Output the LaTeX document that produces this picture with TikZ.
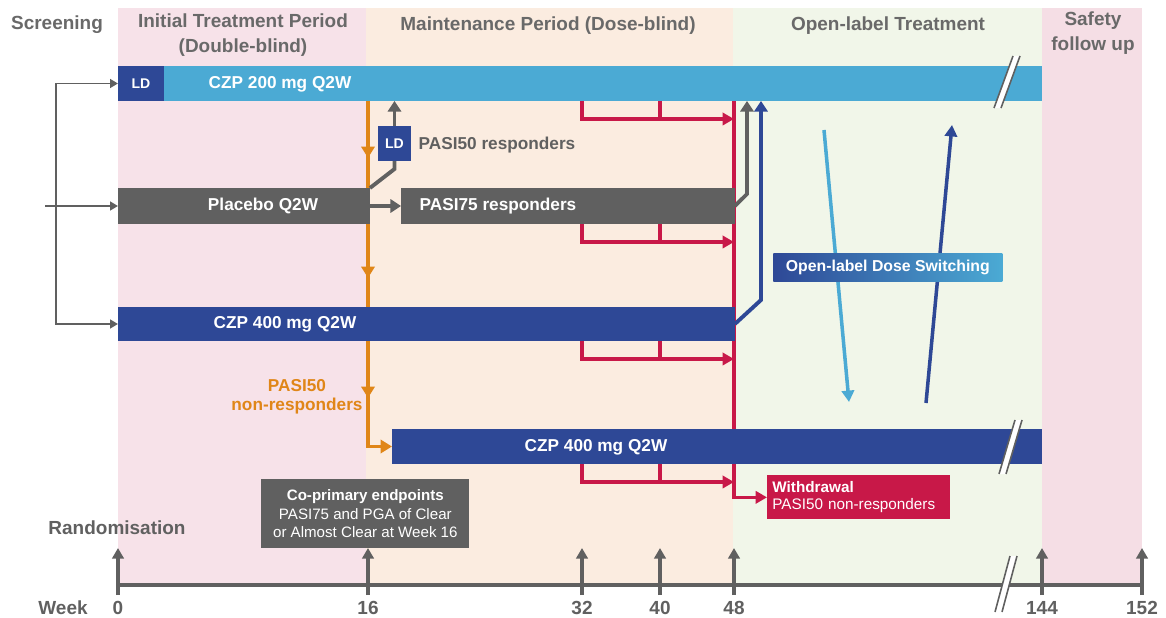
\documentclass[tikz,border=0pt]{standalone}
\usepackage{fontspec}
\setmainfont{Liberation Sans}
\usepackage{xcolor}
\usepackage{tikz}
\usetikzlibrary{arrows.meta}
\usetikzlibrary{calc}

\definecolor{bandpink}{RGB}{247,226,233}
\definecolor{bandpeach}{RGB}{251,236,224}
\definecolor{bandgreen}{RGB}{241,246,233}
\definecolor{bandsafe}{RGB}{245,222,229}
\definecolor{czplight}{RGB}{75,170,212}
\definecolor{czpdark}{RGB}{46,72,150}
\definecolor{pbogray}{RGB}{96,96,96}
\definecolor{hdgray}{RGB}{105,105,105}
\definecolor{nrorange}{RGB}{224,134,24}
\definecolor{wdred}{RGB}{200,24,72}

\pgfdeclarelayer{back}
\pgfdeclarelayer{mid}
\pgfsetlayers{back,mid,main}

\newcommand{\axbreak}[4]{%
  \fill[white] (#1,#2) -- (#3,#4) -- (#3+7,#4) -- (#1+7,#2) -- cycle;
  \draw[brkln] (#1,#2) -- (#3,#4);
  \draw[brkln] (#1+7,#2) -- (#3+7,#4);}

\tikzset{
  bar/.style={anchor=north west, inner sep=0pt, outer sep=0pt, minimum height=0.70cm},
  bartxt/.style={text=white, font=\fontsize{9.8}{12}\selectfont\bfseries},
  ldtxt/.style={text=white, font=\fontsize{8}{10}\selectfont\bfseries},
  hdtxt/.style={text=hdgray, font=\fontsize{10.8}{14.2}\selectfont\bfseries, align=center},
  wktxt/.style={text=pbogray, inner sep=1pt, font=\fontsize{10.8}{13}\selectfont\bfseries},
  grayln/.style={draw=pbogray, line width=2.2pt},
  grayarr/.style={grayln, -{Triangle[width=7.5pt,length=6pt]}},
  bluarr/.style={draw=czpdark, line width=2.2pt, -{Triangle[width=7.5pt,length=6pt]}},
  thinarr/.style={draw=pbogray, line width=1.1pt, -{Triangle[width=5pt,length=4.5pt]}},
  orgarr/.style={draw=nrorange, line width=2.2pt, -{Triangle[width=7.5pt,length=6.5pt]}},
  redln/.style={draw=wdred, line width=2pt},
  redarr/.style={redln, -{Triangle[width=7pt,length=6.5pt]}},
  lbarr/.style={draw=czplight, line width=2pt, -{Triangle[width=7pt,length=6.5pt]}},
  dbarr/.style={draw=czpdark, line width=2pt, -{Triangle[width=7pt,length=6.5pt]}},
  tickarr/.style={draw=pbogray, line width=1.8pt, -{Triangle[width=6.5pt,length=6pt]}},
  brkln/.style={draw=pbogray, line width=0.9pt},
}

\begin{document}
\begin{tikzpicture}[x=0.02cm, y=-0.02cm]
\useasboundingbox (0,0) rectangle (1166,618);

% periods
\begin{pgfonlayer}{back}
  \fill[bandpink] (118,8) rectangle (366,585);
  \fill[bandpeach] (366,8) rectangle (733,585);
  \fill[bandgreen] (733,8) rectangle (1042,585);
  \fill[bandsafe] (1042,8) rectangle (1142,585);
\end{pgfonlayer}

\node[hdtxt] (hscr) at (57,25) {Screening};
\node[hdtxt] (hini) at (243,35) {Initial Treatment Period\\(Double-blind)};
\node[hdtxt] (hmnt) at (548,26) {Maintenance Period (Dose-blind)};
\node[hdtxt] (hopn) at (888,26) {Open-label Treatment};
\node[hdtxt] (hsaf) at (1093,33) {Safety\\follow up};

% weeks
\foreach \w/\x in {0/118,16/368,32/582,40/660,48/734,144/1042,152/1142}{
  \coordinate (wk\w) at (\x,585);
  \draw[tickarr] (wk\w) ++(0,10) -- ++(0,-47);
  \node[wktxt] (wl\w) at (\x,608) {\w};
}
\draw[pbogray, line width=1.8pt] (wk0) -- (wk152);
\node[wktxt] (week) at (63,608) {Week};
\node[wktxt] (rand) at (117,528) {Randomisation};

% arms
\node[bar, fill=czplight, minimum width=18.48cm] (czpA) at (118,66) {};
\node[bar, fill=czpdark, minimum width=0.92cm, ldtxt] (ldA) at (118,66) {LD};
\node[bar, fill=pbogray, minimum width=5.04cm, minimum height=0.72cm] (pbo) at (118,188) {};
\node[bar, fill=pbogray, minimum width=6.68cm, minimum height=0.72cm] (resp) at (401,188) {};
\node[bar, fill=czpdark, minimum width=12.34cm, minimum height=0.68cm] (czpB) at (118,307) {};
\node[bar, fill=czpdark, minimum width=13.0cm] (czpC) at (392,429) {};
\node[bar, fill=czpdark, minimum width=0.66cm, ldtxt] (ldB) at (378,126) {LD};

\node[bartxt] (czpAt) at (280,84) {CZP 200 mg Q2W};
\node[bartxt] (pbot) at (263,206) {Placebo Q2W};
\node[bartxt] (respt) at (498,206) {PASI75 responders};
\node[bartxt] (czpBt) at (285,324) {CZP 400 mg Q2W};
\node[bartxt] (czpCt) at (596,447) {CZP 400 mg Q2W};
\node[text=pbogray, font=\fontsize{9.8}{12}\selectfont\bfseries] (pr50) at (497,145) {PASI50 responders};
\node[text=nrorange, font=\fontsize{9.8}{10.8}\selectfont\bfseries, align=center] (nr50) at (297,397) {PASI50\\non-responders};

\node[anchor=north west, fill=pbogray, text=white, minimum width=4.16cm, minimum height=1.38cm,
  inner sep=0pt, align=center, font=\fontsize{8.6}{10.5}\selectfont] (cpe) at (261,479)
  {\textbf{Co-primary endpoints}\\PASI75 and PGA of Clear\\or Almost Clear at Week 16};
\node[anchor=north west, fill=wdred, text=white, text width=3.46cm, inner xsep=0.1cm, inner ysep=0pt,
  minimum height=0.88cm, align=left, font=\fontsize{8.7}{9.8}\selectfont] (wd) at (767,475)
  {\textbf{Withdrawal}\\PASI50 non-responders};
\node[anchor=north west, left color=czpdark, right color=czplight, minimum width=4.58cm, minimum height=0.56cm,
  inner sep=0pt, text=white, font=\fontsize{9}{11}\selectfont\bfseries] (swb) at (773,253) {Open-label Dose Switching};

\begin{pgfonlayer}{mid}
  % screening
  \coordinate (scrx) at (56,0);
  \coordinate (scrin) at (45,206);
  \draw[thinarr, {Triangle[width=5pt,length=4.5pt]}-{Triangle[width=5pt,length=4.5pt]}]
    (czpA.west) -- (scrx |- czpA.west) -- (scrx |- czpB.west) -- (czpB.west);
  \draw[thinarr] (scrin) -- (pbo.west);

  % week 16 non-responders
  \draw[orgarr] (czpA.south -| wk16) -- (wk16 |- 0,158);
  \draw[orgarr] (wk16 |- 0,150) -- (wk16 |- 0,278);
  \draw[orgarr] (wk16 |- 0,270) -- (wk16 |- 0,398);
  \draw[orgarr] (wk16 |- 0,390) |- (czpC.west);

  % week 16 responders
  \draw[grayln] (pbo.north east) -- ($(ldB.south)+(0,8)$) -- (ldB.south);
  \draw[grayarr] (ldB.north) -- (ldB.north |- czpA.south);
  \draw[grayarr] (pbo.east) -- (resp.west);

  % withdrawal
  \draw[redarr] (czpA.south -| wk48) |- (wd.west);
  \foreach \b in {czpA,resp,czpB,czpC}{
    \draw[redarr] (\b.south -| wk32) |- ($(\b.south -| wk48)+(0,18)$);
    \draw[redln] (\b.south -| wk40) -- ($(\b.south -| wk40)+(0,18)$);
  }

  % week 48 to open label
  \coordinate (gx) at (747,194);
  \draw[grayarr] (resp.east) -- (gx) -- (gx |- czpA.south);
  \coordinate (bx) at (761,300);
  \draw[bluarr] (czpB.east) -- (bx) -- (bx |- czpA.south);

  % dose switching
  \coordinate (swa1) at (824,130);
  \coordinate (swa2) at (849,402);
  \coordinate (swb1) at (926,403);
  \coordinate (swb2) at (952,125);
  \draw[lbarr] (swa1) -- (swa2);
  \draw[dbarr] (swb1) -- (swb2);
\end{pgfonlayer}

% breaks
\axbreak{994}{108}{1013}{56}
\axbreak{999}{474}{1015}{420}
\axbreak{995}{612}{1010}{556}

\end{tikzpicture}
\end{document}
